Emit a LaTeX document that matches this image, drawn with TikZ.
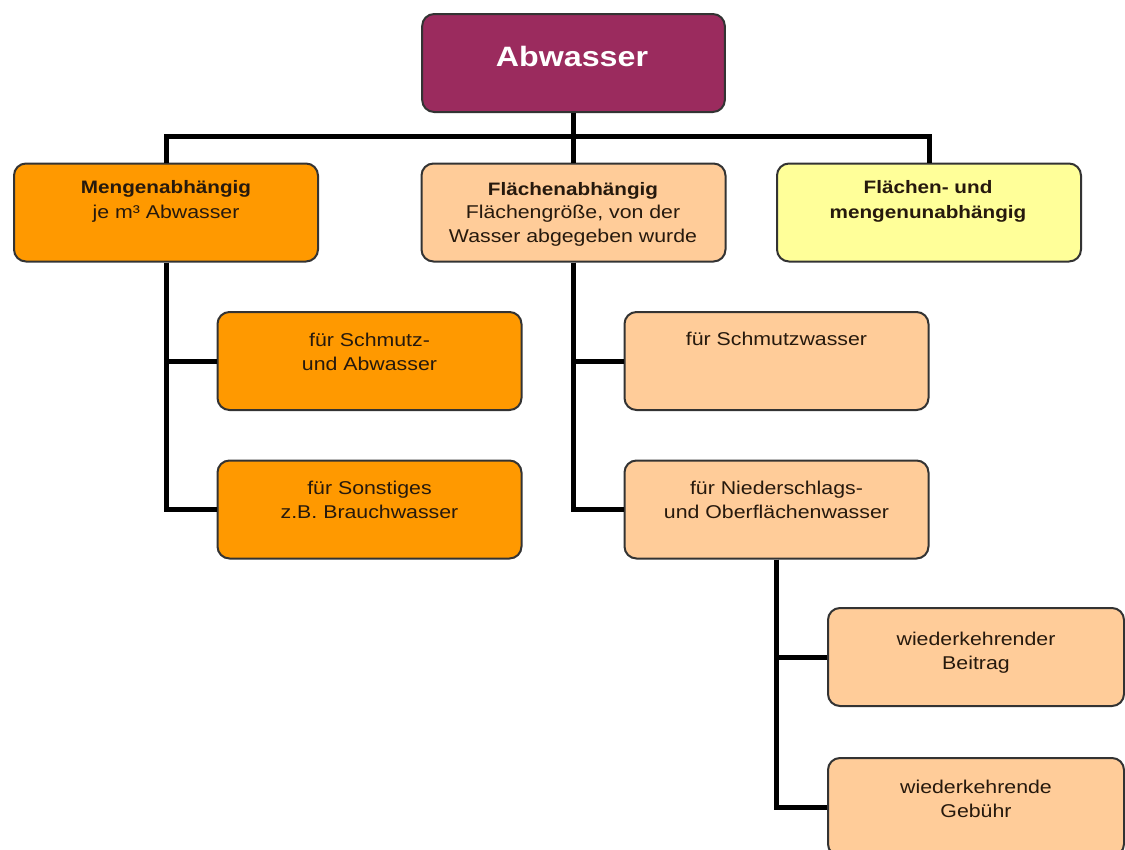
\documentclass[tikz,border=0pt]{standalone}
\usepackage{fontspec}
\setmainfont{Liberation Sans}[FakeStretch=1.15]
\begin{document}
\begin{tikzpicture}[x=0.75pt,y=-0.75pt,
  box/.style={draw=black!80,line width=1.5pt,rounded corners=9pt,minimum height=73.5pt,inner sep=0pt},
  wide/.style={box,minimum width=228pt},
  txt/.style={anchor=base,align=center,inner sep=0pt,text=black!80!brown,font=\fontsize{13.9}{18}\selectfont},
  conn/.style={line width=3.75pt,black},
  plum/.style={fill={rgb,255:red,155;green,43;blue,94}},
  orng/.style={fill={rgb,255:red,255;green,153;blue,0}},
  peach/.style={fill={rgb,255:red,255;green,204;blue,153}},
  yell/.style={fill={rgb,255:red,255;green,255;blue,153}}]
\clip (0,0) rectangle (1125,850);
\fill[white] (0,0) rectangle (1125,850);
% boxes
\node[box,plum,minimum width=227pt] (a) at (573.5,63) {};
\node[wide,orng] (m) at (166,212.5) {};
\node[wide,peach] (f) at (573.5,212.5) {};
\node[wide,yell] (y) at (929,212.5) {};
\node[wide,orng] (s1) at (369.5,361) {};
\node[wide,orng] (s2) at (369.5,509.5) {};
\node[wide,peach] (fs1) at (776.5,361) {};
\node[wide,peach] (fs2) at (776.5,509.5) {};
\node[box,peach,minimum width=222pt] (b1) at (976,657) {};
\node[box,peach,minimum width=222pt] (b2) at (976,807) {};
% connectors
\draw[conn] (m.north) -- ++(0,-26) -| (y.north);
\draw[conn] (a.south) -- (f.north);
\draw[conn] (m.south) |- (s1.west);
\draw[conn] (m.south) |- (s2.west);
\draw[conn] (f.south) |- (fs1.west);
\draw[conn] (f.south) |- (fs2.west);
\draw[conn] (fs2.south) |- (b1.west);
\draw[conn] (fs2.south) |- (b2.west);
% texts (anchor base = baseline of the last line)
\node[txt,text=white,font=\fontsize{21}{24}\selectfont\bfseries] (at) at (572,66) {Abwasser};
\node[txt,font=\fontsize{13.9}{18.75}\selectfont] (mt) at (166,218) {{\fontsize{13.5}{18.75}\selectfont\bfseries Mengenabhängig}\\je m³ Abwasser};
\node[txt,font=\fontsize{13.9}{17.5}\selectfont] (ft) at (573,242) {{\fontsize{13.5}{17.5}\selectfont\bfseries Flächenabhängig}\\Flächengröße, von der\\Wasser abgegeben wurde};
\node[txt,font=\fontsize{13.5}{18.75}\selectfont\bfseries] (yt) at (928,218) {Flächen- und\\mengenunabhängig};
\node[txt] (s1t) at (369.5,370) {für Schmutz-\\und Abwasser};
\node[txt] (s2t) at (369.5,518) {für Sonstiges\\z.B. Brauchwasser};
\node[txt] (fs1t) at (776.5,345) {für Schmutzwasser};
\node[txt] (fs2t) at (776.5,518) {für Niederschlags-\\und Oberflächenwasser};
\node[txt] (b1t) at (976,669) {wiederkehrender\\Beitrag};
\node[txt] (b2t) at (976,817) {wiederkehrende\\Gebühr};
\end{tikzpicture}
\end{document}
